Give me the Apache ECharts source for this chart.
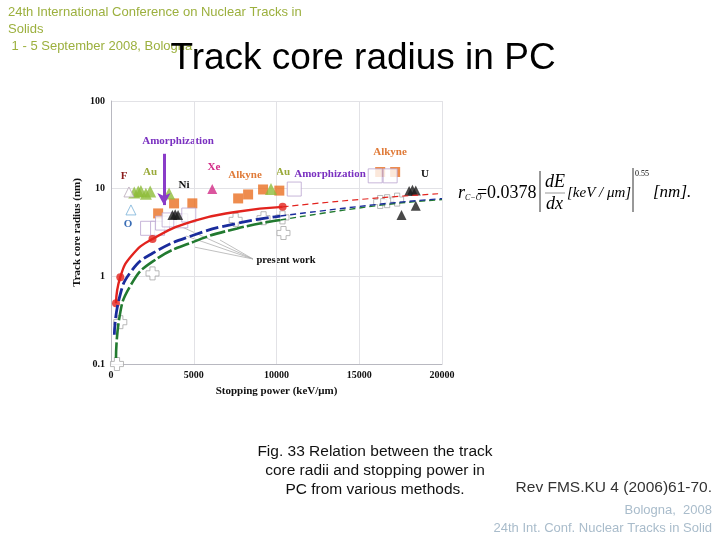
<!DOCTYPE html>
<html>
<head>
<meta charset="UTF-8">
<script src="https://cdn.jsdelivr.net/npm/echarts@6/dist/echarts.min.js"></script>
<style>
  html, body { margin: 0; padding: 0; background: #fff; }
  #main { width: 720px; height: 540px; }
</style>
</head>
<body>
<div id="main"></div>
<script>
// axis ticks
var xTicks = [0, 5000, 10000, 15000, 20000];
var yTicks = [0.1, 1, 10, 100];

// fitted curves
var redX = [301, 562, 1204, 2508, 5015, 7623, 10371];
var redY = [0.494, 0.977, 1.68, 2.67, 4.28, 5.46, 6.2];
var redDashX = [10371, 15045, 20000];
var redDashY = [6.2, 7.54, 8.8];

var blueX = [201, 501, 1204, 2508, 5015, 7623, 10231];
var blueY = [0.216, 0.563, 1.13, 1.83, 2.96, 4.02, 4.87];
var blueDashX = [10231, 16066, 20000];
var blueDashY = [4.87, 6.6, 7.7];

var greenX = [301, 501, 1204, 2508, 5015, 7623, 10231];
var greenY = [0.117, 0.333, 0.80, 1.47, 2.49, 3.52, 4.39];
var greenDashX = [10231, 16066, 20000];
var greenDashY = [4.39, 6.4, 7.5];

// measured points
var redDotX = [301, 562, 2508, 10371];
var redDotY = [0.494, 0.977, 2.67, 6.2];

var crossX = [361, 562, 2508, 7530, 9217, 10361, 10422, 16265, 16687, 17289];
var crossY = [0.1, 0.30, 1.08, 4.4, 4.6, 4.7, 3.12, 7.05, 7.2, 7.5];

var orangeX = [2848, 3811, 4915, 7683, 8285, 9188, 10171, 16265, 17169];
var orangeY = [5.22, 6.79, 6.8, 7.74, 8.59, 9.79, 9.5, 15.5, 15.5];

var openSqX = [2211, 2813, 3114, 3512, 4217, 4699, 11073, 15964, 16867];
var openSqY = [3.53, 3.53, 4.05, 4.4, 4.3, 5.0, 9.9, 14.0, 14.0];

var auX = [1404, 1645, 1805, 2106, 2367, 3510, 9669];
var auY = [9.06, 9.3, 9.38, 8.75, 9.3, 8.8, 9.9];

var niX = [3711, 3880, 4052];
var niY = [5.0, 5.1, 5.0];

var uX = [18014, 18215, 18415, 17553, 18415];
var uY = [9.38, 9.7, 9.5, 5.0, 6.38];

var xeX = [6118];
var xeY = [9.9];

var fX = [1084];
var fY = [9.17];
var oX = [1205];
var oY = [5.72];

function pairs(xs, ys) {
    return xs.map(function (x, i) { return [x, ys[i]]; });
}

var serif = '"Liberation Serif", "DejaVu Serif", serif';
var sans = '"Liberation Sans", Arial, sans-serif';
var plus = 'path://M3,0H7V3H10V7H7V10H3V7H0V3H3Z';

function curve(xs, ys, color, width, dash) {
    return {
        type: 'line', data: pairs(xs, ys), smooth: true, showSymbol: false,
        lineStyle: { color: color, width: width, type: dash }, silent: true
    };
}

function marks(xs, ys, symbol, size, fill, border) {
    return {
        type: 'scatter', data: pairs(xs, ys), symbol: symbol, symbolSize: size,
        itemStyle: { color: fill, borderColor: border || fill, borderWidth: border ? 1 : 0 }
    };
}

function label(text, x, y, color, size) {
    return {
        type: 'text', x: x, y: y,
        style: {
            text: text, fill: color, font: 'bold ' + (size || 11) + 'px ' + serif,
            textAlign: 'center', textVerticalAlign: 'middle', align: 'center', verticalAlign: 'middle'
        }
    };
}

function txt(text, x, y, font, color, align) {
    return {
        type: 'text', x: x, y: y,
        style: {
            text: text, fill: color, font: font,
            textAlign: align || 'left', textVerticalAlign: 'middle',
            align: align || 'left', verticalAlign: 'middle'
        }
    };
}

function seg(x1, y1, x2, y2, color, w) {
    return { type: 'line', shape: { x1: x1, y1: y1, x2: x2, y2: y2 }, style: { stroke: color, lineWidth: w } };
}

var chart = echarts.init(document.getElementById('main'));

var header = '#9cb03e';
var formula = 'italic 18px ' + serif;

var option = {
    animation: false,
    grid: { left: 111, top: 101, width: 331, height: 263 },
    xAxis: {
        type: 'value', min: xTicks[0], max: xTicks[xTicks.length - 1], interval: 5000,
        name: 'Stopping power (keV/\u03bcm)', nameLocation: 'middle', nameGap: 22,
        nameTextStyle: { fontFamily: serif, fontWeight: 'bold', fontSize: 11, color: '#111' },
        axisLine: { lineStyle: { color: '#b8b8c0' } },
        axisTick: { show: false },
        axisLabel: {
            fontFamily: serif, fontWeight: 'bold', fontSize: 10, color: '#111', margin: 6,
            formatter: function (v) { return String(v); }
        },
        splitLine: { lineStyle: { color: '#e2e2e6' } }
    },
    yAxis: {
        type: 'log', logBase: 10, min: yTicks[0], max: yTicks[yTicks.length - 1],
        name: 'Track core radius (nm)', nameLocation: 'middle', nameGap: 28,
        nameTextStyle: { fontFamily: serif, fontWeight: 'bold', fontSize: 11, color: '#111' },
        axisLine: { show: true, lineStyle: { color: '#b8b8c0' } },
        axisTick: { show: false },
        axisLabel: {
            fontFamily: serif, fontWeight: 'bold', fontSize: 10, color: '#111', margin: 6,
            formatter: function (v) { return v < 1 ? v.toFixed(1) : String(Math.round(v)); }
        },
        splitLine: { lineStyle: { color: '#e2e2e6' } }
    },
    series: [
        curve(greenX, greenY, '#227a30', 2.6, [16, 3]),
        curve(greenDashX, greenDashY, '#227a30', 1.4, [6, 4]),
        curve(blueX, blueY, '#1a2c9c', 2.8, [13, 4]),
        curve(blueDashX, blueDashY, '#1a2c9c', 1.4, [6, 4]),
        curve(redX, redY, '#e2231e', 2.4, 'solid'),
        curve(redDashX, redDashY, '#e2231e', 1.2, [6, 4]),
        marks(orangeX, orangeY, 'rect', 10, '#ea6f22'),
        marks(openSqX, openSqY, 'rect', 14, '#ffffff', '#b9a4cf'),
        marks(auX, auY, 'triangle', 12, '#8fbd3b'),
        marks(niX, niY, 'triangle', 10, '#1c1c1c'),
        marks(uX, uY, 'triangle', 10, '#1c1c1c'),
        marks(xeX, xeY, 'triangle', 10, '#d22a86'),
        marks(fX, fY, 'triangle', 10, '#ffffff', '#b8a8b8'),
        marks(oX, oY, 'triangle', 10, '#ffffff', '#78b0d8'),
        marks(crossX, crossY, plus, 13, '#ffffff', '#a8a8a8'),
        {
            type: 'scatter', data: pairs(redDotX, redDotY), symbol: 'circle', symbolSize: 8,
            itemStyle: { color: '#e2231e' },
            markLine: {
                silent: true, symbol: ['none', 'arrow'], symbolSize: [10, 12],
                label: { show: false },
                lineStyle: { color: '#8a3cc8', width: 3, type: 'solid' },
                data: [[{ coord: [3200, 25] }, { coord: [3200, 6.5] }]]
            }
        }
    ],
    graphic: [
        // slide header
        txt('24th International Conference on Nuclear Tracks in', 8, 12, '13px ' + sans, header),
        txt('Solids', 8, 29, '13px ' + sans, header),
        txt(' 1 - 5 September 2008, Bologna', 8, 46, '13px ' + sans, header),
        txt('Track core radius in PC', 363, 59, '37px ' + sans, '#000', 'center'),

        // annotations inside the plot
        label('Amorphization', 178, 141, '#7a30c0'),
        label('Amorphization', 330, 174, '#7a30c0'),
        label('F', 124, 176, '#8b1c1c'),
        label('O', 128, 224, '#3a6db5'),
        label('Au', 150, 172, '#9aaa3a'),
        label('Au', 283, 172, '#9aaa3a'),
        label('Xe', 214, 167, '#d22a86'),
        label('Ni', 184, 185, '#111'),
        label('Alkyne', 245, 175, '#e07b39'),
        label('Alkyne', 390, 152, '#e07b39'),
        label('U', 425, 174, '#111'),
        label('present work', 286, 260, '#111', 10.5),
        seg(253, 259, 182, 227, '#b0b0b0', 0.8),
        seg(253, 259, 186, 236, '#b0b0b0', 0.8),
        seg(253, 259, 194, 247, '#b0b0b0', 0.8),
        seg(253, 259, 220, 240, '#b0b0b0', 0.8),

        // formula
        txt('r', 458, 193, formula, '#000'),
        txt('C\u2212O', 465, 198, 'italic 8px ' + serif, '#000'),
        txt('=', 477, 193, '18px ' + serif, '#000'),
        txt('0.0378', 487, 193, '18px ' + serif, '#000'),
        seg(540, 171, 540, 212, '#333', 1),
        txt('dE', 545, 182, formula, '#000'),
        seg(545, 193, 565, 193, '#555', 0.6),
        txt('dx', 546, 204, formula, '#000'),
        txt('[keV / \u03bcm]', 567, 193, 'italic 15px ' + serif, '#000'),
        seg(633, 168, 633, 212, '#333', 1),
        txt('0.55', 635, 174, '8px ' + serif, '#000'),
        txt('[nm].', 653, 193, 'italic 17px ' + serif, '#000'),

        // caption and footer
        txt('Fig. 33 Relation between the track', 375, 452, '15.5px ' + sans, '#111', 'center'),
        txt('core radii and stopping power in', 375, 471, '15.5px ' + sans, '#111', 'center'),
        txt('PC from various methods.', 375, 490, '15.5px ' + sans, '#111', 'center'),
        txt('Rev FMS.KU 4 (2006)61-70.', 712, 488, '15.5px ' + sans, '#333', 'right'),
        txt('Bologna,  2008', 712, 510, '13px ' + sans, '#a9bccb', 'right'),
        txt('24th Int. Conf. Nuclear Tracks in Solid', 712, 528, '13px ' + sans, '#a9bccb', 'right')
    ]
};

// use configuration item and data specified to show chart
chart.setOption(option);
</script>
</body>
</html>
